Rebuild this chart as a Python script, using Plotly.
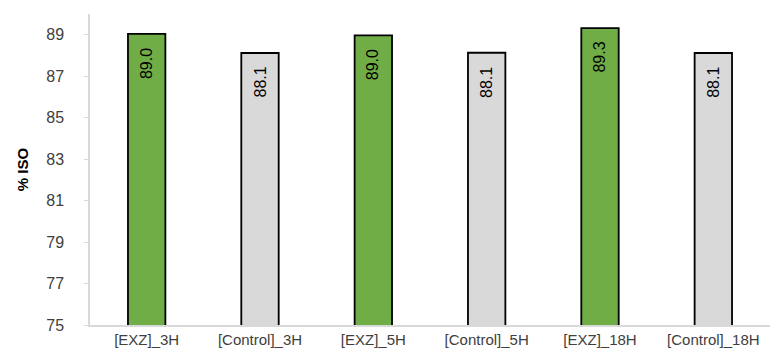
import plotly.graph_objects as go

categories = ["[EXZ]_3H", "[Control]_3H", "[EXZ]_5H", "[Control]_5H", "[EXZ]_18H", "[Control]_18H"]
iso_values = [89.04, 88.12, 88.97, 88.13, 89.32, 88.12]
bar_colors = ["#70AD47", "#D9D9D9", "#70AD47", "#D9D9D9", "#70AD47", "#D9D9D9"]
y_ticks = [75, 77, 79, 81, 83, 85, 87, 89]

fig = go.Figure(
    go.Bar(
        x=categories,
        y=iso_values,
        width=0.33,
        marker=dict(color=bar_colors, line=dict(color="#000000", width=1.8)),
        cliponaxis=False,
    )
)

# rotated value labels sitting just below each bar top
for cat, val in zip(categories, iso_values):
    fig.add_annotation(
        x=cat,
        y=val,
        text=f"{val:.1f}",
        textangle=-90,
        showarrow=False,
        xanchor="center",
        yanchor="top",
        yshift=-12,
        font=dict(family="Liberation Sans", size=16, color="#000000"),
    )

fig.update_layout(
    width=771,
    height=354,
    margin=dict(l=90, r=1, t=14, b=29),
    plot_bgcolor="white",
    paper_bgcolor="white",
    showlegend=False,
    font=dict(family="Liberation Sans", size=15, color="#404040"),
)

fig.update_xaxes(
    showline=True,
    linecolor="#D9D9D9",
    linewidth=1.5,
    ticks="",
    showgrid=False,
    tickfont=dict(size=15, color="#404040"),
)

fig.update_yaxes(
    range=[75, 90],
    tickvals=y_ticks,
    showline=True,
    linecolor="#D9D9D9",
    linewidth=1.5,
    ticks="outside",
    ticklen=4,
    tickcolor="#D9D9D9",
    ticklabelstandoff=17,
    showgrid=False,
    zeroline=False,
    tickfont=dict(size=16, color="#404040"),
    title=dict(text="<b>% ISO</b>", font=dict(size=15, color="#000000"), standoff=14),
)

fig.write_html("out.html")
